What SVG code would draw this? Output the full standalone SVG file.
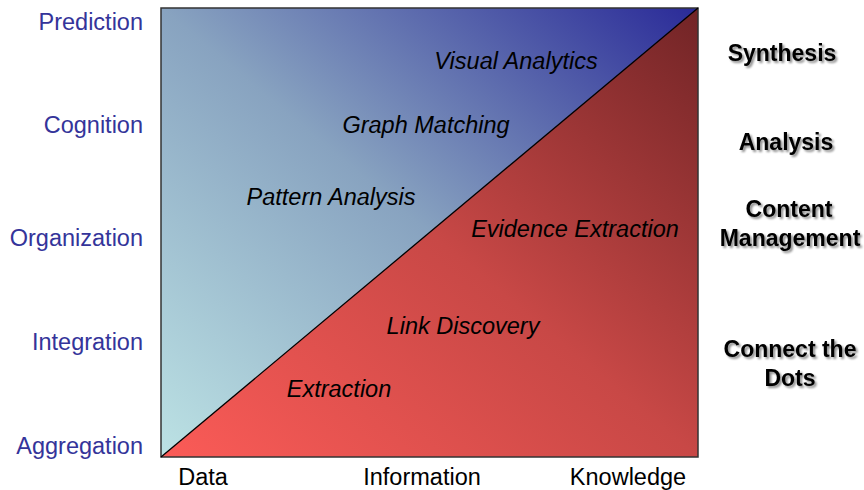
<svg xmlns="http://www.w3.org/2000/svg" width="864" height="490" viewBox="0 0 864 490">
<style>
.ax{font-family:"Liberation Sans",Arial,sans-serif;font-size:23.5px;fill:#34349a}
.bx{font-family:"Liberation Sans",Arial,sans-serif;font-size:23.5px;fill:#000}
.it{font-family:"Liberation Sans",Arial,sans-serif;font-size:23.5px;font-style:italic;fill:#000;text-anchor:middle}
.rt{font-family:"Liberation Sans",Arial,sans-serif;font-size:23px;font-weight:bold;fill:#000;text-anchor:middle;filter:url(#sh)}
</style>
<defs>
<linearGradient id="gb" x1="0" y1="1" x2="1" y2="0">
<stop offset="0" stop-color="#bce2e4"/>
<stop offset="0.5" stop-color="#88a3c0"/>
<stop offset="1" stop-color="#2a2a98"/>
</linearGradient>
<linearGradient id="gr" x1="0" y1="1" x2="1" y2="0">
<stop offset="0" stop-color="#fb5b57"/>
<stop offset="0.5" stop-color="#c84846"/>
<stop offset="1" stop-color="#712426"/>
</linearGradient>
<filter id="sh" x="-10%" y="-30%" width="130%" height="170%">
<feGaussianBlur in="SourceAlpha" stdDeviation="1.2"/>
<feOffset dx="2" dy="2" result="b"/>
<feComponentTransfer><feFuncA type="linear" slope="0.45"/></feComponentTransfer>
<feMerge><feMergeNode/><feMergeNode in="SourceGraphic"/></feMerge>
</filter>
</defs>
<g id="chart">
<rect x="161" y="8" width="537" height="449" fill="url(#gb)"/>
<polygon points="161,457 698,8 698,457" fill="url(#gr)"/>
<rect x="161" y="8" width="537" height="449" fill="none" stroke="#333" stroke-width="1.5"/>
</g>
<g id="connectors">
<line x1="161" y1="457" x2="698" y2="8" stroke="#000" stroke-width="1.3"/>
</g>
<g id="y-axis">
<text class="ax" x="143" y="30" text-anchor="end">Prediction</text>
<text class="ax" x="143" y="133" text-anchor="end">Cognition</text>
<text class="ax" x="143" y="246" text-anchor="end">Organization</text>
<text class="ax" x="143" y="350" text-anchor="end">Integration</text>
<text class="ax" x="143" y="454" text-anchor="end">Aggregation</text>
</g>
<g id="x-axis">
<text class="bx" x="203" y="485" text-anchor="middle">Data</text>
<text class="bx" x="422" y="485" text-anchor="middle">Information</text>
<text class="bx" x="628" y="485" text-anchor="middle">Knowledge</text>
</g>
<g id="visual-analytics"><text class="it" x="516" y="69">Visual Analytics</text></g>
<g id="graph-matching"><text class="it" x="426" y="133">Graph Matching</text></g>
<g id="pattern-analysis"><text class="it" x="331" y="205">Pattern Analysis</text></g>
<g id="evidence-extraction"><text class="it" x="575" y="237">Evidence Extraction</text></g>
<g id="link-discovery"><text class="it" x="463" y="334">Link Discovery</text></g>
<g id="extraction"><text class="it" x="339" y="397">Extraction</text></g>
<g id="right-labels">
<text class="rt" x="782" y="61">Synthesis</text>
<text class="rt" x="786" y="150">Analysis</text>
<text class="rt" x="789" y="217">Content</text>
<text class="rt" x="790" y="246">Management</text>
<text class="rt" x="790" y="357">Connect the</text>
<text class="rt" x="790" y="386">Dots</text>
</g>
</svg>
